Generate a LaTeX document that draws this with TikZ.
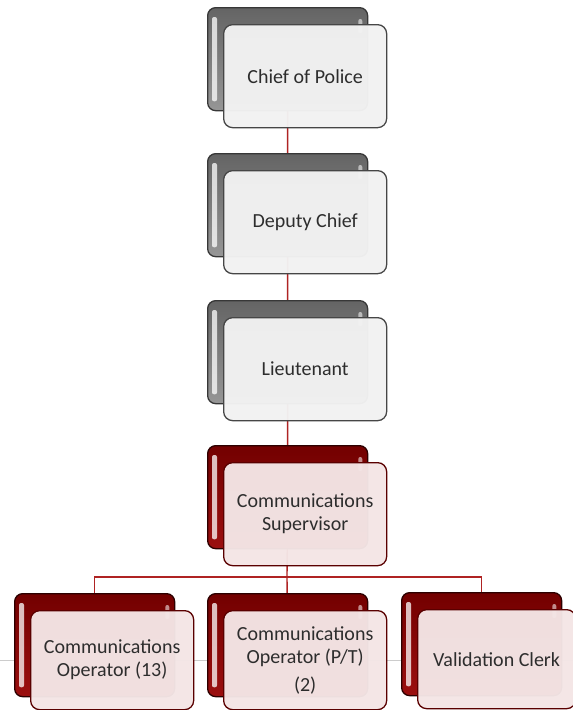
\documentclass[tikz,border=0pt]{standalone}
\usepackage{fontspec}
\setmainfont{Carlito}
\usetikzlibrary{calc,backgrounds}
\definecolor{conn}{RGB}{175,35,35}
\definecolor{gtop}{RGB}{100,100,100}
\definecolor{gbot}{RGB}{150,150,150}
\definecolor{gedge}{RGB}{55,55,55}
\definecolor{gfront}{RGB}{242,242,242}
\definecolor{gfedge}{RGB}{70,70,70}
\definecolor{rtop}{RGB}{115,0,0}
\definecolor{rbot}{RGB}{155,15,15}
\definecolor{redge}{RGB}{45,0,0}
\definecolor{rfront}{RGB}{244,230,230}
\definecolor{rfedge}{RGB}{90,0,0}
\definecolor{txt}{RGB}{45,45,45}
\tikzset{
  backbox/.style={rounded corners=8pt, minimum width=160pt, minimum height=103pt, inner sep=0pt, line width=1.3pt},
  grayback/.style={backbox, draw=gedge, top color=gtop, bottom color=gbot},
  redback/.style={backbox, draw=redge, top color=rtop, bottom color=rbot},
  frontbox/.style={rounded corners=9pt, minimum width=163pt, minimum height=103pt, inner sep=0pt, line width=1.3pt,
     fill opacity=0.97, text opacity=1, align=center, text=txt, font=\fontsize{20}{23}\selectfont},
  grayfront/.style={frontbox, draw=gfedge, fill=gfront},
  redfront/.style={frontbox, draw=rfedge, fill=rfront},
  connector/.style={draw=conn, line width=1.4pt},
  hilite/.style={fill=white, rounded corners=2pt}
}
\newcommand\orgbox[6]{%
  \node[#4back, anchor=north west] (#1B) at (#2,#3) {};
  \fill[hilite, opacity=.75] ($(#1B.north west)+(5,10)$) rectangle ($(#1B.south west)+(10,-10)$);
  \fill[hilite, opacity=.55] ($(#1B.north east)+(-10,12)$) rectangle ($(#1B.north east)+(-6,26)$);
  \node[#4front, anchor=north west, #5] (#1) at (#2+16,#3+17) {#6};
}
\begin{document}
\begin{tikzpicture}[x=1pt,y=-1pt]
\useasboundingbox (0,0) rectangle (573,710);
\orgbox{chief}{207}{7}{gray}{}{Chief of Police}
\orgbox{deputy}{207}{153}{gray}{}{Deputy Chief}
\orgbox{lieut}{207}{300}{gray}{}{Lieutenant}
\orgbox{sup}{207}{445}{red}{}{Communications\\Supervisor}
\orgbox{opa}{14}{593}{red}{minimum height=99pt}{Communications\\Operator (13)}
\orgbox{opb}{207}{593}{red}{minimum height=99pt}{Communications\\Operator (P/T)\\[5pt](2)}
\orgbox{val}{401}{592}{red}{minimum height=99pt, minimum width=158pt}{Validation Clerk}
\coordinate (bus) at (287,577);
\coordinate (hl) at (0,660);
\coordinate (hr) at (573,660);
\coordinate (tl) at (0,0);
\coordinate (br) at (573,710);
\begin{pgfonlayer}{background}
  \fill[white] (tl) rectangle (br);
  \draw[gray!40, line width=0.4pt] (hl) -- (hr);
  \draw[connector] (chiefB.center) -- (deputyB.center) -- (lieutB.center) -- (supB.center) -- (bus);
  \draw[connector] (opaB.center) |- (bus) -| (valB.center);
  \draw[connector] (bus) -- (opbB.center);
\end{pgfonlayer}
\end{tikzpicture}
\end{document}
